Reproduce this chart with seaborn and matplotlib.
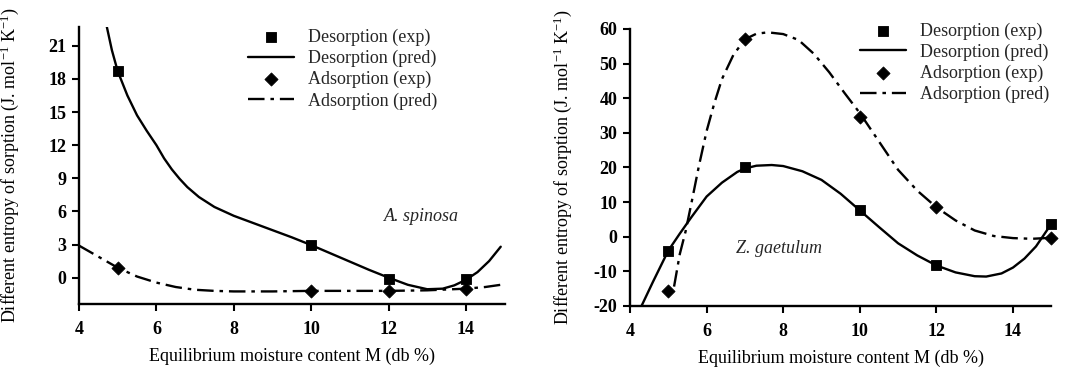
import matplotlib
matplotlib.use("Agg")
import matplotlib.pyplot as plt
import seaborn as sns

# ---------------- data: A. spinosa (left) ----------------
a_des_exp_x = [5, 10, 12, 14]
a_des_exp_y = [18.7, 3.0, -0.1, -0.1]
a_ads_exp_x = [5, 10, 12, 14]
a_ads_exp_y = [0.9, -1.2, -1.25, -1.0]
a_des_pred_x = [4.72, 4.85, 5.0, 5.25, 5.5, 5.75, 6.0, 6.2, 6.4, 6.6, 6.8, 7.1, 7.5, 8.0, 8.5, 9.0, 9.5,
                10.0, 10.5, 11.0, 11.5, 12.0, 12.5, 13.0, 13.4, 13.7, 14.0, 14.3, 14.6, 14.9]
a_des_pred_y = [22.7, 20.6, 18.7, 16.5, 14.7, 13.3, 12.0, 10.8, 9.8, 8.95, 8.2, 7.3, 6.4, 5.6, 4.95, 4.3, 3.65,
                2.95, 2.2, 1.45, 0.7, 0.0, -0.65, -1.05, -1.0, -0.7, -0.2, 0.5, 1.5, 2.8]
a_ads_pred_x = [4.0, 4.5, 5.0, 5.5, 6.0, 6.5, 7.0, 7.5, 8.0, 9.0, 10.0, 11.0, 12.0, 13.0, 14.0, 14.5, 15.0]
a_ads_pred_y = [2.9, 1.9, 0.9, 0.1, -0.45, -0.85, -1.1, -1.2, -1.25, -1.25, -1.2, -1.2, -1.2, -1.15, -1.0, -0.85, -0.6]

# ---------------- data: Z. gaetulum (right) ----------------
z_des_exp_x = [5, 7, 10, 12, 15]
z_des_exp_y = [-4.0, 20.1, 7.6, -8.3, 3.7]
z_ads_exp_x = [5, 7, 10, 12, 15]
z_ads_exp_y = [-15.7, 57.1, 34.7, 8.5, -0.3]
z_des_pred_x = [4.3, 4.6, 5.0, 5.3, 5.6, 6.0, 6.4, 6.8, 7.0, 7.3, 7.7, 8.0, 8.5, 9.0, 9.5,
                10.0, 10.5, 11.0, 11.5, 12.0, 12.5, 13.0, 13.3, 13.7, 14.0, 14.3, 14.6, 15.0]
z_des_pred_y = [-20.0, -13.0, -4.0, 0.9, 5.6, 11.6, 15.6, 18.7, 19.7, 20.5, 20.7, 20.4, 18.9, 16.4, 12.4,
                7.6, 2.8, -1.9, -5.4, -8.3, -10.3, -11.4, -11.5, -10.6, -8.9, -6.3, -2.8, 3.7]
z_ads_pred_x = [5.15, 5.3, 5.45, 5.6, 5.8, 6.0, 6.2, 6.4, 6.7, 7.0, 7.3, 7.6, 8.0, 8.4, 8.8,
                9.2, 9.6, 10.0, 10.5, 11.0, 11.5, 12.0, 12.5, 13.0, 13.5, 14.0, 14.5, 15.0]
z_ads_pred_y = [-14.4, -5.0, 1.5, 9.5, 20.5, 30.5, 38.5, 45.5, 52.5, 57.0, 58.6, 59.0, 58.5, 56.8, 52.8,
                47.5, 41.5, 35.7, 27.5, 19.3, 13.3, 8.5, 4.7, 1.8, 0.2, -0.4, -0.6, -0.3]

x_ticks = [4, 6, 8, 10, 12, 14]
a_y_ticks = [0, 3, 6, 9, 12, 15, 18, 21]
z_y_ticks = [-20, -10, 0, 10, 20, 30, 40, 50, 60]

x_label = "Equilibrium moisture content M (db %)"
y_label = r"Different entropy of sorption (J. mol$^{-1}$ K$^{-1}$)"
legend_labels = ["Desorption (exp)", "Desorption (pred)", "Adsorption (exp)", "Adsorption (pred)"]

sns.set_theme(style="ticks")
plt.rcParams["font.family"] = ["Liberation Serif", "DejaVu Serif"]
plt.rcParams["mathtext.fontset"] = "custom"
plt.rcParams["mathtext.rm"] = "Liberation Serif"
plt.rcParams["mathtext.it"] = "Liberation Serif:italic"
plt.rcParams["axes.unicode_minus"] = False

fig = plt.figure(figsize=(10.72, 3.75), dpi=100)
ax1 = fig.add_axes([0.0737, 0.189, 0.397, 0.739])
ax2 = fig.add_axes([0.5877, 0.184, 0.393, 0.739])

dash_dot = (7, 2.5, 1.5, 2.5)


def draw(ax, dex, dey, dpx, dpy, aex, aey, apx, apy):
    sns.lineplot(x=dpx, y=dpy, ax=ax, color="black", lw=1.7, sort=False,
                 label=legend_labels[1], zorder=2)
    sns.lineplot(x=apx, y=apy, ax=ax, color="black", lw=1.7, sort=False,
                 label=legend_labels[3], zorder=2)
    ax.lines[-1].set_dashes(dash_dot)
    sns.scatterplot(x=dex, y=dey, ax=ax, marker="s", s=60, color="black",
                    edgecolor="black", label=legend_labels[0], zorder=3, clip_on=False)
    sns.scatterplot(x=aex, y=aey, ax=ax, marker="D", s=45, color="black",
                    edgecolor="black", label=legend_labels[2], zorder=3, clip_on=False)


draw(ax1, a_des_exp_x, a_des_exp_y, a_des_pred_x, a_des_pred_y,
     a_ads_exp_x, a_ads_exp_y, a_ads_pred_x, a_ads_pred_y)
draw(ax2, z_des_exp_x, z_des_exp_y, z_des_pred_x, z_des_pred_y,
     z_ads_exp_x, z_ads_exp_y, z_ads_pred_x, z_ads_pred_y)

ax1.set_xlim(4, 15)
ax1.set_ylim(-2.4, 22.7)
ax1.set_yticks(a_y_ticks)
ax2.set_xlim(4, 15)
ax2.set_ylim(-20, 60)
ax2.set_yticks(z_y_ticks)

for ax in (ax1, ax2):
    ax.set_xticks(x_ticks)
    sns.despine(ax=ax)
    for s in ("left", "bottom"):
        ax.spines[s].set_linewidth(1.7)
        ax.spines[s].set_color("black")
    ax.tick_params(axis="both", direction="out", length=5, width=1.5, colors="black",
                   labelsize=13)
    ax.tick_params(axis="x", pad=7)
    ax.tick_params(axis="y", pad=4)
    ax.set_xlabel(x_label, fontsize=13, color="black", labelpad=7)
    ax.set_ylabel(y_label, fontsize=13, color="black")
    for lab in ax.get_xticklabels() + ax.get_yticklabels():
        lab.set_fontweight("bold")
    h, l = ax.get_legend_handles_labels()
    order = [l.index(t) for t in legend_labels]
    ax.legend([h[i] for i in order], legend_labels, frameon=False, fontsize=13,
              loc="upper left", handlelength=2.55, handletextpad=0.75,
              labelspacing=0.22, borderaxespad=0.0, borderpad=0.0)

ax1.yaxis.set_label_coords(-0.137, 0.5)
ax2.yaxis.set_label_coords(-0.133, 0.5)
ax1.get_legend().set_bbox_to_anchor((0.397, 0.995))
ax2.get_legend().set_bbox_to_anchor((0.546, 1.024))

ax1.text(12.85, 5.5, "A. spinosa", fontsize=13, style="italic", ha="center", va="center")
ax2.text(7.9, -3.3, "Z. gaetulum", fontsize=13, style="italic", ha="center", va="center")

fig.savefig("out.png", dpi=100)
